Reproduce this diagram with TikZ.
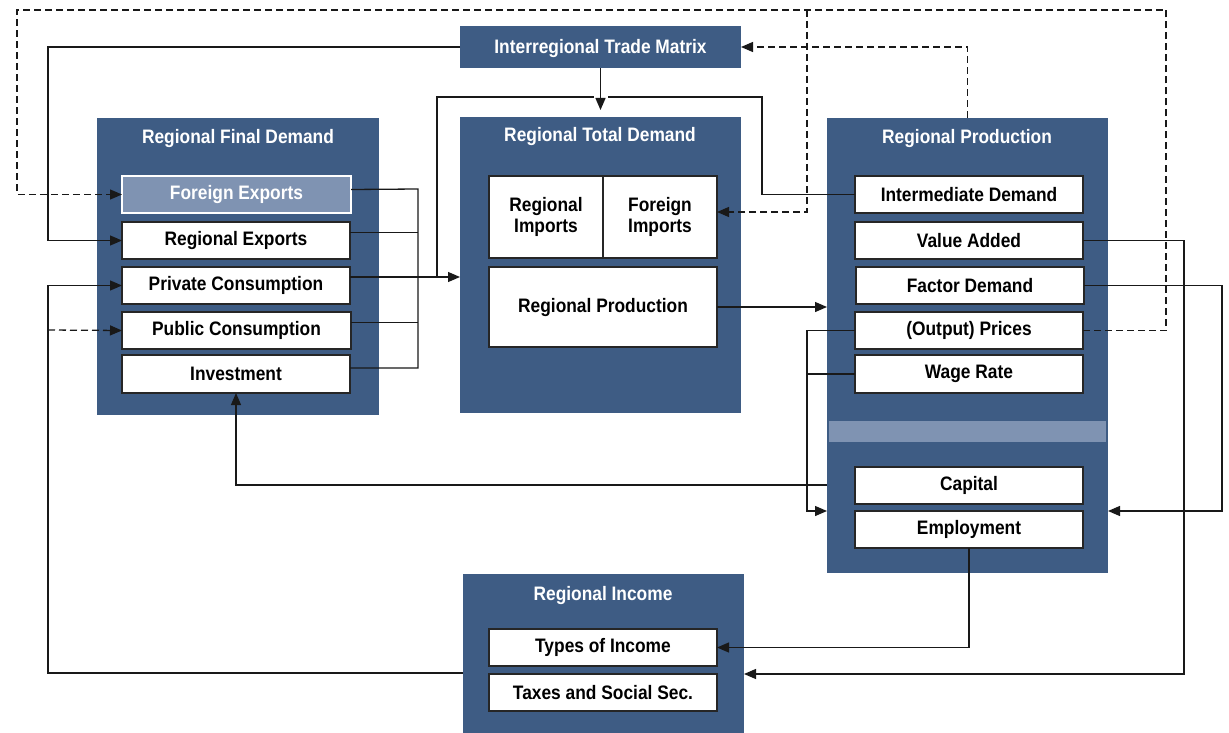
\documentclass[tikz,border=0pt]{standalone}
\usepackage{fontspec}
\newfontfamily\dfont[FakeStretch=0.89]{Liberation Sans}
\usetikzlibrary{arrows.meta}
\definecolor{panelc}{HTML}{3E5C84}
\definecolor{lightc}{HTML}{7F93B2}
\tikzset{
  panel/.style={fill=panelc, draw=none, anchor=north west, inner sep=0pt, outer sep=0pt},
  ptitle/.style={text=white, font=\dfont\bfseries\fontsize{19.5}{21}\selectfont, inner sep=0pt},
  box/.style={fill=white, draw=black!85, line width=1.3pt, anchor=north west, inner sep=0pt, outer sep=0pt,
    minimum width=228pt, minimum height=37pt, font=\dfont\bfseries\fontsize{19.5}{21}\selectfont, align=center},
  lbox/.style={box, fill=lightc, draw=white, text=white},
  conn/.style={line width=1.3pt, draw=black!90},
  dl/.style={conn, dash pattern=on 7pt off 4pt},
  arr/.style={-{Triangle[length=12pt,width=10pt]}}
}
\begin{document}
\begin{tikzpicture}[x=1pt,y=-1pt]
\useasboundingbox (0,0) rectangle (1229,733);
% panels
\node[panel, minimum width=281pt, minimum height=42pt] (itm) at (460,26) {};
\node[ptitle] (itmt) at ([yshift=-2pt]itm.center) {Interregional Trade Matrix};
\node[panel, minimum width=282pt, minimum height=297pt] (rfd) at (97,118) {};
\node[ptitle] (rfdt) at (238,139) {Regional Final Demand};
\node[panel, minimum width=281pt, minimum height=296pt] (rtd) at (460,117) {};
\node[ptitle] (rtdt) at (600,137) {Regional Total Demand};
\node[panel, minimum width=281pt, minimum height=455pt] (rp) at (827,118) {};
\node[ptitle] (rpt) at (967,139) {Regional Production};
\node[panel, fill=lightc, minimum width=277pt, minimum height=21pt] (band) at (829,421) {};
\node[panel, minimum width=281pt, minimum height=159pt] (ri) at (463,574) {};
\node[ptitle] (rit) at (603,595) {Regional Income};
% final demand boxes
\node[lbox, minimum width=229pt] (fe) at (122,176) {Foreign Exports};
\node[box] (rex) at (122,222) {Regional Exports};
\node[box] (pc) at (122,267) {Private Consumption};
\node[box, minimum width=229pt] (puc) at (122,312) {Public Consumption};
\node[box, minimum height=38pt] (inv) at (122,355) {Investment};
% total demand boxes
\node[box, minimum width=114pt, minimum height=82pt] (rimp) at (489,176) {Regional\\Imports};
\node[box, minimum width=114pt, minimum height=82pt] (fimp) at (603,176) {Foreign\\Imports};
\node[box, minimum height=80pt] (rprod) at (489,267) {Regional Production};
% production boxes
\node[box] (id) at (855,176) {Intermediate Demand};
\node[box] (va) at (855,222) {Value Added};
\node[box] (fd) at (856,267) {Factor Demand};
\node[box] (op) at (855,312) {(Output) Prices};
\node[box, minimum height=38pt] (wr) at (855,355) {Wage Rate};
\node[box] (cap) at (855,467) {Capital};
\node[box] (emp) at (855,511) {Employment};
% income boxes
\node[box] (toi) at (489,629) {Types of Income};
\node[box] (tax) at (489,674) {Taxes and Social Sec.};
% coordinates
\coordinate (c1) at (1166,10);
\coordinate (c2) at (17,10);
\coordinate (c3) at (807,10);
\coordinate (c4) at (48,47);
\coordinate (c5) at (762,97);
\coordinate (c6) at (437,97);
\coordinate (j1) at (437,277);
\coordinate (bt) at (418,189);
\coordinate (bb) at (418,368);
\coordinate (c8) at (48,673);
\coordinate (c9) at (48,330);
\coordinate (c10) at (236,485);
\coordinate (c11) at (807,511);
\coordinate (c12) at (1184,674);
\coordinate (c13) at (1222,511);
% dashed connectors
\draw[dl, arr] (op.east) -| (c1) -- (c2) |- (fe.west);
\draw[dl, arr] (c3) |- ([yshift=5pt]fimp.east);
\draw[dl, arr] (rp.north) |- (itm.east);
\draw[dl, arr] (c9) -- (puc.west);
% solid connectors
\draw[conn, arr] (itm.west) -- (c4) |- (rex.west);
\draw[conn] (id.west) -| (c5) -- (c6) -- (j1);
\draw[white, line width=14pt] ([yshift=-22pt]itm.south) -- ([yshift=-36pt]itm.south);
\draw[conn, arr] (itm.south) -- ([yshift=-42pt]itm.south);
\draw[conn, arr] ([yshift=8.5pt]pc.east) -- ([yshift=8.5pt]pc.east -| rtd.west);
\draw[conn] ([yshift=5pt]fe.east) -- (bt) -- (bb) -- ([yshift=6pt]inv.east);
\draw[conn] ([yshift=8pt]rex.east) -- ([yshift=8pt]rex.east -| bt);
\draw[conn] ([yshift=8pt]puc.east) -- ([yshift=8pt]puc.east -| bt);
\draw[conn, arr] (ri.west |- c8) -- (c8) |- (pc.west);
\draw[conn, arr] (rp.west |- c10) -- (c10) -- (inv.south);
\draw[conn, arr] (rprod.east) -- (rprod.east -| rp.west);
\draw[conn, arr] (op.west) -| (c11) -- (c11 -| rp.west);
\draw[conn] (wr.west) -- (wr.west -| c11);
\draw[conn, arr] (va.east) -| (c12) -- (c12 -| ri.east);
\draw[conn, arr] (fd.east) -| (c13) -- (c13 -| rp.east);
\draw[conn, arr] (emp.south) |- (toi.east);
\end{tikzpicture}
\end{document}
